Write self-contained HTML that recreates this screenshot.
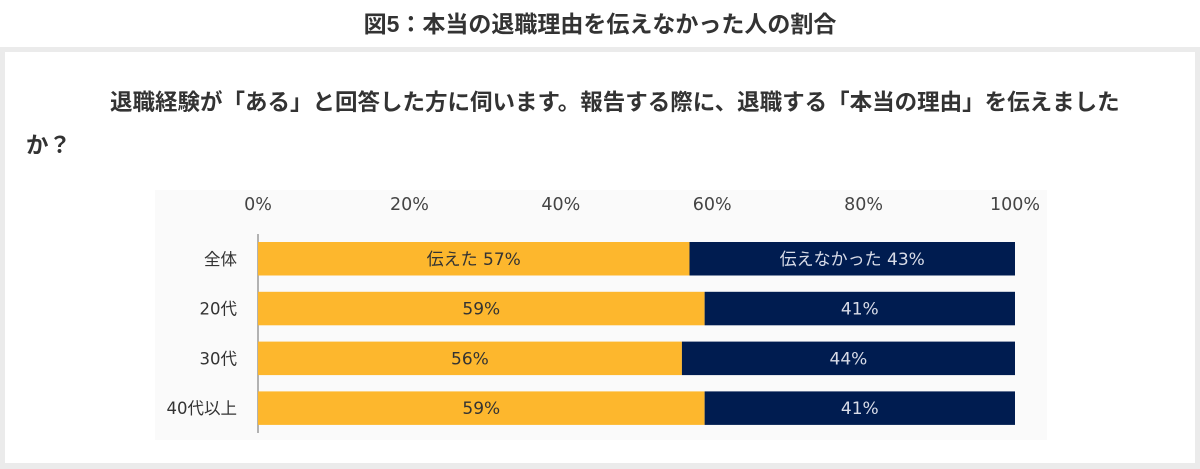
<!DOCTYPE html>
<html><head><meta charset="utf-8">
<style>
body{margin:0;width:1200px;height:469px;background:#fff;font-family:"Liberation Sans","Noto Sans CJK JP",sans-serif;overflow:hidden;position:relative}
#title{position:absolute;top:5px;left:0;width:1200px;text-align:center;font-size:23px;font-weight:bold;color:#333;}
#frame{position:absolute;left:0;top:47px;width:1200px;height:422px;background:#ebebeb}
#inner{position:absolute;left:5px;top:52px;width:1190px;height:411px;background:#fff}
.q{position:absolute;font-size:22.5px;font-weight:bold;color:#333;white-space:nowrap}
</style></head><body>
<div id="title">図5：本当の退職理由を伝えなかった人の割合</div>
<div id="frame"></div>
<div id="inner"></div>
<div class="q" style="left:110px;top:85px">退職経験が「ある」と回答した方に伺います。報告する際に、退職する「本当の理由」を伝えました</div>
<div class="q" style="left:26px;top:128px">か？</div>
<svg id="chart" width="1200" height="469" style="position:absolute;left:0;top:0">
<rect x="155" y="190" width="892" height="250" fill="#fafafa"/>
</svg>
<script>
const categories=["全体","20代","30代","40代以上"];
const told=[57,59,56,59];
const notTold=[43,41,44,41];
const toldLabels=["伝えた 57%","59%","56%","59%"];
const notToldLabels=["伝えなかった 43%","41%","44%","41%"];
const ticks=[0,20,40,60,80,100];
const svg=document.getElementById('chart');
const NS='http://www.w3.org/2000/svg';
const x0=258,x1=1015;
const xs=v=>x0+(x1-x0)*v/100;
const yTop=242,step=49.8,bh=33.5;
function mk(t,a){const e=document.createElementNS(NS,t);for(const k in a)e.setAttribute(k,a[k]);svg.appendChild(e);return e;}
ticks.forEach(t=>{
 const e=mk('text',{x:xs(t),y:210,'text-anchor':'middle','font-size':17.5,fill:'#444','font-family':'DejaVu Sans, sans-serif'});
 e.textContent=t+'%';
 
 
});
const ax=mk('line',{x1:x0,x2:x0,y1:234,y2:433,stroke:'#999','stroke-width':1.5});


categories.forEach((c,i)=>{
 const y=yTop+i*step;
 const cl=mk('text',{x:237,y:y+bh/2+6,'text-anchor':'end','font-size':16.5,fill:'#333','font-family':'DejaVu Sans, Noto Sans CJK JP, sans-serif'});
 cl.textContent=c;
 
 
 const a=mk('rect',{x:xs(0),y:y,width:xs(told[i])-xs(0),height:bh,fill:'#fdb72d'});
 
 
 const b=mk('rect',{x:xs(told[i]),y:y,width:xs(told[i]+notTold[i])-xs(told[i]),height:bh,fill:'#001c50'});
 
 
 const la=mk('text',{x:(xs(0)+xs(told[i]))/2,y:y+bh/2+6,'text-anchor':'middle','font-size':17,fill:'#333','font-family':'DejaVu Sans, Noto Sans CJK JP, sans-serif'});
 la.textContent=toldLabels[i];
 
 
 const lb=mk('text',{x:(xs(told[i])+xs(told[i]+notTold[i]))/2,y:y+bh/2+6,'text-anchor':'middle','font-size':17,fill:'#d8dce8','font-family':'DejaVu Sans, Noto Sans CJK JP, sans-serif'});
 lb.textContent=notToldLabels[i];
 
 
});
</script>
</body></html>
